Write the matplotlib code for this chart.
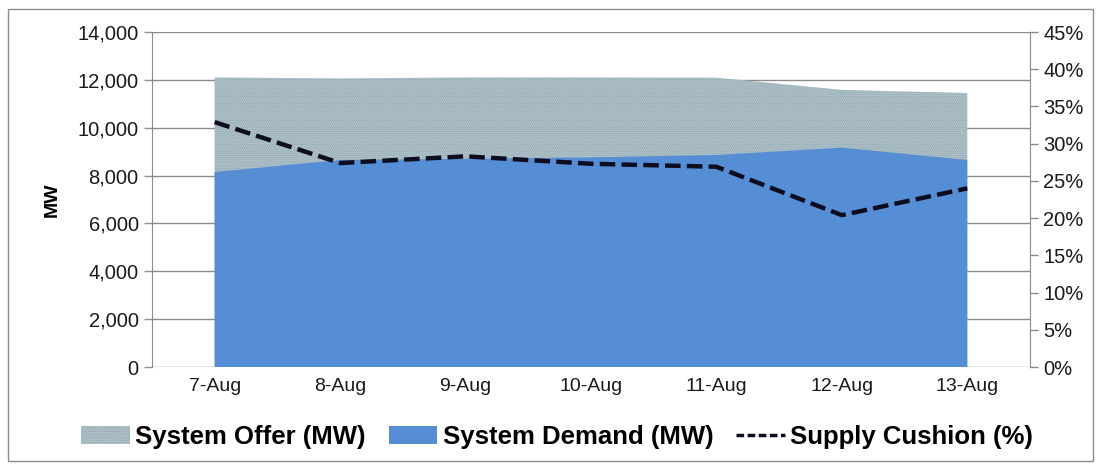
import matplotlib.pyplot as plt
from matplotlib.patches import Rectangle, Patch
from matplotlib.lines import Line2D
from matplotlib.ticker import FuncFormatter

days = ['7-Aug', '8-Aug', '9-Aug', '10-Aug', '11-Aug', '12-Aug', '13-Aug']
offer = [12100, 12060, 12100, 12100, 12090, 11580, 11450]
demand = [8150, 8650, 8700, 8760, 8860, 9170, 8650]
cushion = [32.9, 27.4, 28.3, 27.3, 26.9, 20.4, 24.0]

plt.rcParams['font.family'] = ['Liberation Sans', 'DejaVu Sans']

fig = plt.figure(figsize=(11.01, 4.68), dpi=100)
ax = fig.add_axes([0.138, 0.2158, 0.7975, 0.7158])
ax2 = ax.twinx()

x = list(range(len(days)))

# offer area with fine dotted pattern
plt.rcParams['hatch.linewidth'] = 0.6
ax.fill_between(x, 0, offer, facecolor='#b3c4cb', edgecolor='#8aa3ae',
                hatch='.........', linewidth=0, zorder=2)
ax.fill_between(x, 0, demand, facecolor='#558ed5', linewidth=0, zorder=3)

ax2.plot(x, cushion, color='#0d0d1f', linestyle=(0, (3.5, 1.4)), linewidth=3.2, zorder=4)

ax.set_xlim(-0.5, 6.5)
ax.set_ylim(0, 14000)
ax.set_yticks(range(0, 14001, 2000))
ax.yaxis.set_major_formatter(FuncFormatter(lambda v, p: '{:,.0f}'.format(v)))
ax2.set_ylim(0, 45)
ax2.set_yticks(range(0, 46, 5))
ax2.yaxis.set_major_formatter(FuncFormatter(lambda v, p: '{:.0f}%'.format(v)))

ax.set_xticks(x)
ax.set_xticklabels(days)
ax.grid(axis='y', color='#8c8c8c', linewidth=1, zorder=1)
ax.set_axisbelow(True)

for a in (ax, ax2):
    for s in ('top', 'bottom'):
        a.spines[s].set_visible(False)
    a.spines['left'].set_color('#8c8c8c')
    a.spines['right'].set_color('#8c8c8c')
    a.tick_params(axis='y', colors='#8c8c8c', labelcolor='#1a1a1a', labelsize=14.5,
                  length=6, width=1)
ax.spines['right'].set_visible(False)
ax2.spines['left'].set_visible(False)
ax.tick_params(axis='x', length=0, labelsize=14, labelcolor='#1a1a1a', pad=8)

ax.set_ylabel('MW', fontsize=14, fontweight='bold', labelpad=12)

handles = [
    Patch(facecolor='#b3c4cb', edgecolor='#8aa3ae', hatch='.........', linewidth=0),
    Patch(facecolor='#558ed5', linewidth=0),
    Line2D([0], [0], color='#0d0d1f', linestyle=(0, (2.2, 1.0)), linewidth=2.5),
]
labels = ['System Offer (MW)', 'System Demand (MW)', 'Supply Cushion (%)']
fig.legend(handles, labels, loc='center', bbox_to_anchor=(0.506, 0.066), ncol=3,
           frameon=False, handlelength=1.9, handleheight=0.7, handletextpad=0.2,
           columnspacing=0.9, prop={'weight': 'bold', 'size': 18.5})

fig.add_artist(Rectangle((0.007, 0.015), 0.986, 0.966, transform=fig.transFigure,
                         fill=False, edgecolor='#8c8c8c', linewidth=1))

fig.savefig('out.png', dpi=100)
